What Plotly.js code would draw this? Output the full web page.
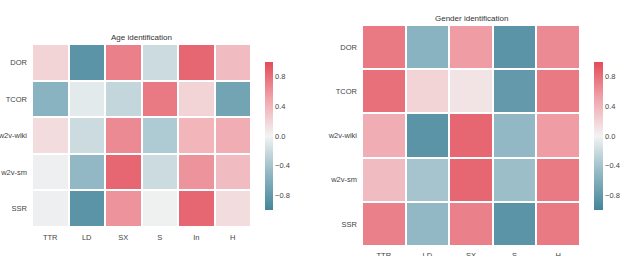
<!DOCTYPE html>
<html>
<head>
<meta charset="utf-8">
<script src="https://cdn.plot.ly/plotly-3.0.1.min.js"></script>
<style>html,body{margin:0;padding:0;background:#fff;}#chart{width:640px;height:256px;}</style>
</head>
<body>
<div id="chart"></div>
<script>
var rowLabels = ["DOR", "TCOR", "w2v-wiki", "w2v-sm", "SSR"];
var ageCols = ["TTR", "LD", "SX", "S", "In", "H"];
var genderCols = ["TTR", "LD", "SX", "S", "H"];

var ageValues = [
  [0.20, -0.85, 0.70, -0.20, 0.85, 0.35],
  [-0.55, -0.08, -0.25, 0.75, 0.20, -0.70],
  [0.15, -0.20, 0.65, -0.35, 0.40, 0.45],
  [-0.03, -0.50, 0.85, -0.20, 0.60, 0.35],
  [-0.03, -0.85, 0.60, -0.02, 0.85, 0.15]
];
var genderValues = [
  [0.75, -0.55, 0.55, -0.85, 0.65],
  [0.80, 0.20, 0.10, -0.80, 0.75],
  [0.45, -0.85, 0.85, -0.50, 0.55],
  [0.35, -0.40, 0.85, -0.45, 0.75],
  [0.70, -0.50, 0.70, -0.85, 0.75]
];
var tickVals = [-0.8, -0.4, 0.0, 0.4, 0.8];

var cscale = [
  [0, "rgb(68,133,153)"],
  [0.25, "rgb(145,184,196)"],
  [0.5, "rgb(243,243,243)"],
  [0.75, "rgb(240,165,172)"],
  [1, "rgb(226,76,88)"]
];
var font = {family: "Liberation Sans, Arial, sans-serif", size: 7.5, color: "#444"};

function cb(x, thick) {
  return {
    x: x, xanchor: "left", y: 0.469, yanchor: "middle",
    len: 168/256, lenmode: "fraction", thickness: thick, thicknessmode: "pixels",
    outlinewidth: 0, ticks: "", tickvals: tickVals, tickformat: ".1f",
    tickfont: font, ticklabelpad: 0, xpad: 0
  };
}

var traces = [
  {type: "heatmap", x: ageCols, y: rowLabels, z: ageValues, zmin: -1, zmax: 1,
   colorscale: cscale, xgap: 2, ygap: 2, xaxis: "x", yaxis: "y",
   colorbar: cb(265/640, 8), hoverinfo: "none"},
  {type: "heatmap", x: genderCols, y: rowLabels, z: genderValues, zmin: -1, zmax: 1,
   colorscale: cscale, xgap: 2, ygap: 2, xaxis: "x2", yaxis: "y2",
   colorbar: cb(594/640, 9), hoverinfo: "none"}
];

var axBase = {showgrid: false, zeroline: false, showline: false, ticks: "", tickfont: font, fixedrange: true};
var layout = {
  width: 640, height: 256,
  margin: {l: 0, r: 0, t: 0, b: 0},
  paper_bgcolor: "#fff", plot_bgcolor: "#fff",
  font: font,
  xaxis: Object.assign({}, axBase, {domain: [32/640, 251/640], anchor: "y", ticklabelstandoff: 4}),
  yaxis: Object.assign({}, axBase, {domain: [1-227/256, 1-44/256], anchor: "x", autorange: "reversed", ticklabelstandoff: 4}),
  xaxis2: Object.assign({}, axBase, {domain: [362/640, 580/640], anchor: "y2", ticklabelstandoff: 3}),
  yaxis2: Object.assign({}, axBase, {domain: [1-246/256, 1-25/256], anchor: "x2", autorange: "reversed", ticklabelstandoff: 4}),
  annotations: [
    {text: "Age identification", x: 141.5/640, y: 1-37/256, xref: "paper", yref: "paper",
     showarrow: false, xanchor: "center", yanchor: "middle", font: {family: font.family, size: 8, color: "#333"}},
    {text: "Gender identification", x: 471/640, y: 1-18/256, xref: "paper", yref: "paper",
     showarrow: false, xanchor: "center", yanchor: "middle", font: {family: font.family, size: 8, color: "#333"}}
  ]
};
Plotly.newPlot("chart", traces, layout, {displayModeBar: false, staticPlot: true});
</script>
</body>
</html>
